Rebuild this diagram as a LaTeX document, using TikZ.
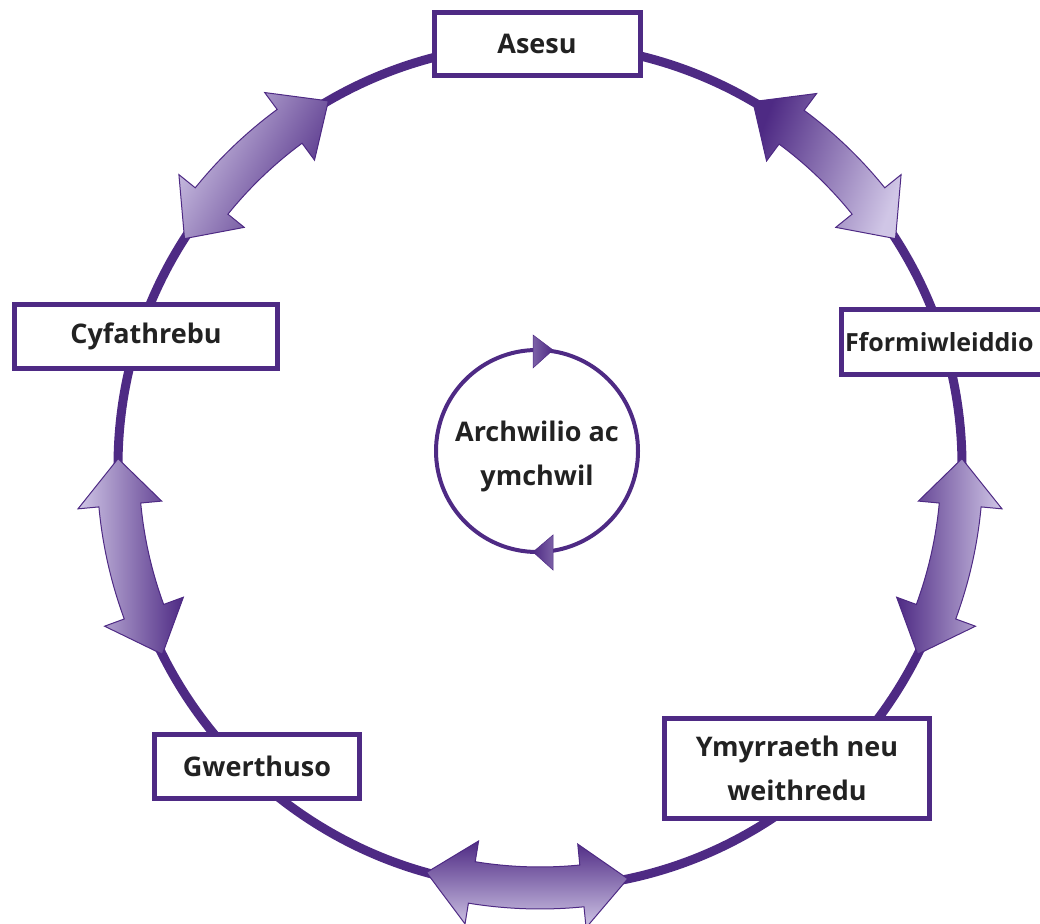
\documentclass[tikz,border=0pt]{standalone}
\usepackage{fontspec}
\setmainfont{Open Sans}
\definecolor{pur}{RGB}{78,42,132}
\definecolor{lpur}{RGB}{208,198,230}
\definecolor{txt}{RGB}{34,34,34}
\newcommand\dblarr[3]{%
  \pgfmathsetmacro\dbA{#1+6.3}\pgfmathsetmacro\dbB{#2-6.3}%
  \path[darrow,#3] (#1:422) -- (\dbA:464) -- (\dbA:443)
    arc[start angle=\dbA, end angle=\dbB, radius=443] -- (\dbB:464) -- (#2:422)
    -- (\dbB:380) -- (\dbB:401)
    arc[start angle=\dbB, end angle=\dbA, radius=401] -- (\dbA:380) -- cycle;}
\begin{document}
\begin{tikzpicture}[x=1pt,y=1pt,
  box/.style={draw=pur, line width=5pt, fill=white, text=txt, align=center,
    inner sep=0pt, font=\fontsize{27}{44}\selectfont\bfseries},
  ring/.style={draw=pur, line width=9pt},
  darrow/.style={draw=pur, line width=1pt, line join=miter}]
\clip (0,0) rectangle (1040,923);
\draw[ring] (540,457) circle[radius=422];
\begin{scope}[shift={(540,457)}]
  \dblarr{120.1}{147.4}{top color=lpur, bottom color=pur, shading angle=60}
  \dblarr{32.6}{59.7}{top color=pur, bottom color=lpur, shading angle=70}
  \dblarr{179}{206.5}{left color=lpur, right color=pur}
  \dblarr{-26.5}{1}{left color=pur, right color=lpur}
  \dblarr{254.4}{282}{top color=pur, bottom color=lpur}
\end{scope}
\node[box, minimum width=206, minimum height=63] (asesu) at (537,879) {Asesu};
\node[box, minimum width=263, minimum height=64] (cyf) at (146,586.5) {Cyfathrebu};
\node[box, anchor=west, minimum height=65, inner xsep=4pt, font=\fontsize{25}{44}\selectfont\bfseries] (ffo) at (838.5,581) {Fformiwleiddio\hspace{60pt}};
\node[box, minimum width=205, minimum height=64] (gwe) at (257,156.5) {Gwerthuso};
\node[box, minimum width=265, minimum height=100] (ymy) at (797,154.5) {Ymyrraeth neu\\weithredu};
\node[circle, draw=pur, line width=4pt, minimum size=202, inner sep=0pt] (arch) at (537,472) {};
\node[text=txt, align=center, inner sep=0pt, font=\fontsize{27}{44}\selectfont\bfseries] (archtxt) at (537,467) {Archwilio ac\\ymchwil};
\path[draw=pur, line width=0.5pt, left color=pur!65!lpur, right color=pur] (533,588) -- (553,573) -- (533,555) -- cycle;
\path[draw=pur, line width=0.5pt, left color=pur, right color=pur!65!lpur] (553,388) -- (533,371) -- (553,353) -- cycle;
\end{tikzpicture}
\end{document}
